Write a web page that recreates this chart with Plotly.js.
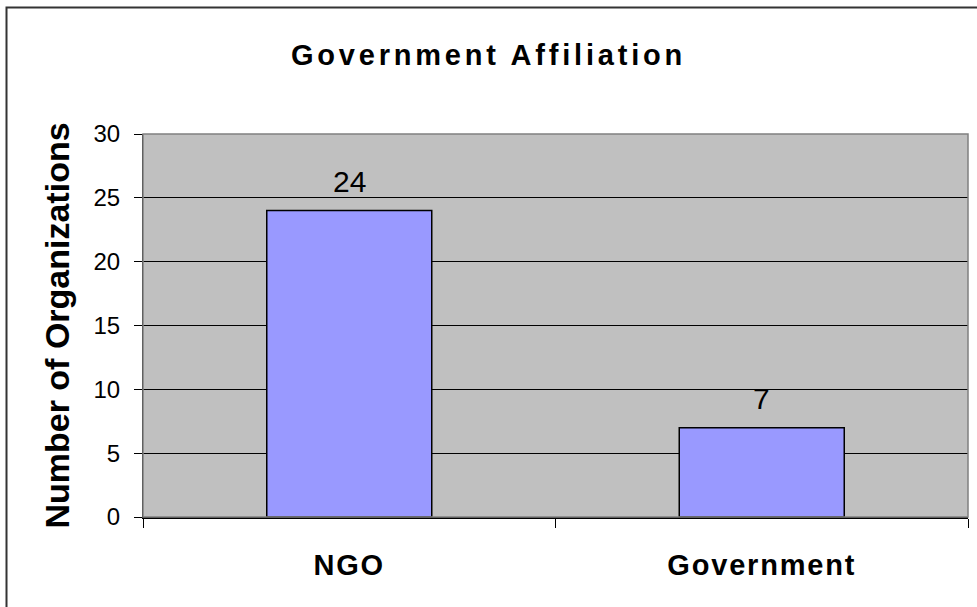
<!DOCTYPE html>
<html>
<head>
<meta charset="utf-8">
<script src="https://cdn.plot.ly/plotly-3.0.1.min.js"></script>
<style>
html,body{margin:0;padding:0;background:#fff;}
#chart{width:977px;height:607px;}
#chart .gtitle{letter-spacing:3.8px;}
#chart .xtick text{letter-spacing:1.8px;}
</style>
</head>
<body>
<div id="chart"></div>
<script>
const categories = ["NGO", "Government"];
const values = [24, 7];
const yTicks = [0, 5, 10, 15, 20, 25, 30];

const W = 977, H = 607;
const M = {l: 143, r: 9, t: 134, b: 90};
const pw = W - M.l - M.r, ph = H - M.t - M.b;
// pixel (from left / from top) -> paper coordinates
const px = x => (x - M.l) / pw;
const py = y => (H - M.b - y) / ph;
const FONT = "Arial, Liberation Sans, sans-serif";

const trace = {
  type: "bar",
  x: categories,
  y: values,
  width: 0.4,
  marker: {color: "#9999FF", line: {color: "#000000", width: 1.5}},
  hoverinfo: "none"
};

const annotations = categories.map((c, i) => ({
  x: c, y: values[i], xref: "x", yref: "y",
  text: String(values[i]), showarrow: false,
  yanchor: "bottom", yshift: 11,
  font: {family: FONT, size: 30, color: "#000"}
}));

const layout = {
  width: W, height: H,
  margin: M,
  paper_bgcolor: "#ffffff",
  plot_bgcolor: "#C0C0C0",
  showlegend: false,
  title: {
    text: "<b>Government Affiliation</b>",
    x: 0.5, xref: "container", xanchor: "center",
    y: 1 - 55 / H, yref: "container", yanchor: "middle",
    font: {family: FONT, size: 29, color: "#000"}
  },
  xaxis: {
    type: "category",
    tickson: "boundaries",
    ticks: "outside", ticklen: 9, tickcolor: "#000", tickwidth: 1,
    showline: true, linecolor: "#000", linewidth: 1.5,
    showgrid: false,
    tickfont: {family: FONT, size: 29, color: "#000"},
    tickprefix: "<b>", ticksuffix: "</b>",
    ticklabelstandoff: 22
  },
  yaxis: {
    range: [0, 30],
    tickvals: yTicks,
    ticktext: yTicks.map(String),
    ticks: "outside", ticklen: 8, tickcolor: "#000", tickwidth: 1,
    ticklabelstandoff: 9,
    showline: true, linecolor: "#000", linewidth: 1,
    showgrid: true, gridcolor: "#000", gridwidth: 1,
    zeroline: false,
    tickfont: {family: FONT, size: 24, color: "#000"},
    title: {
      text: "<b>Number of Organizations</b>",
      font: {family: FONT, size: 34, color: "#000"},
      standoff: 13
    }
  },
  annotations: annotations,
  shapes: [
    {type: "rect", xref: "paper", yref: "paper", x0: px(6.5), x1: px(1000), y0: py(640), y1: py(7.5),
     line: {color: "#333", width: 2}, fillcolor: "rgba(0,0,0,0)", layer: "below"},
    {type: "rect", xref: "paper", yref: "paper", x0: 0, x1: 1, y0: 0, y1: 1,
     line: {color: "#808080", width: 1.5}, fillcolor: "rgba(0,0,0,0)", layer: "above"}
  ]
};

Plotly.newPlot("chart", [trace], layout, {staticPlot: true, displayModeBar: false});
</script>
</body>
</html>
